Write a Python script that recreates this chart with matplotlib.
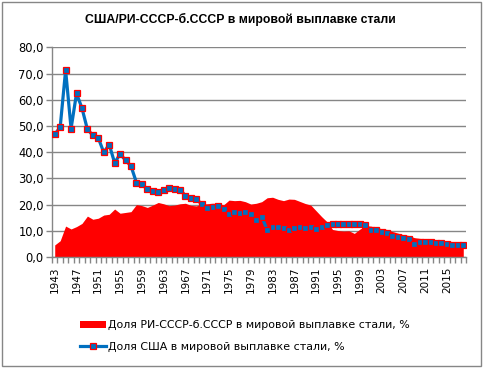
import matplotlib
matplotlib.use("Agg")
import matplotlib.pyplot as plt
import numpy as np
from matplotlib.patches import Rectangle
from matplotlib.lines import Line2D
from matplotlib.patches import Patch

years = list(range(1943, 2019))

ussr_share = [4.6, 6.2, 11.8, 10.7, 11.6, 12.8, 15.6, 14.4, 14.8, 16.0,
              16.3, 18.3, 16.7, 17.0, 17.3, 20.0, 19.6, 18.9, 19.8, 20.8,
              20.3, 19.6, 19.8, 20.3, 20.5, 19.7, 19.5, 20.2, 20.3, 20.5,
              20.4, 19.9, 21.7, 21.5, 21.6, 21.1, 20.2, 20.5, 21.1, 22.6,
              22.8, 22.0, 21.5, 22.1, 22.0, 21.2, 20.4, 19.8, 17.6, 15.4,
              13.4, 10.5, 10.1, 9.9, 10.0, 9.0, 10.6, 11.8, 11.8, 11.3,
              10.8, 10.5, 9.7, 9.1, 8.5, 8.2, 7.4, 7.1, 7.0, 6.8,
              6.5, 6.4, 6.1, 5.9, 5.9, 5.8]

usa_share = [46.8, 49.5, 71.3, 49.0, 62.4, 56.8, 48.7, 46.4, 45.4, 39.9,
             42.9, 35.9, 39.3, 36.9, 34.7, 28.4, 27.7, 25.9, 25.3, 24.7,
             25.5, 26.2, 25.9, 25.7, 23.4, 22.4, 22.1, 20.1, 18.8, 19.2,
             19.5, 18.4, 16.4, 17.0, 16.9, 17.2, 16.4, 14.0, 15.4, 10.3,
             11.4, 11.6, 10.9, 10.3, 10.9, 11.6, 11.2, 11.6, 10.8, 11.6,
             12.2, 12.5, 12.6, 12.6, 12.5, 12.7, 12.5, 12.1, 10.3, 10.2,
             9.4, 9.3, 8.0, 7.8, 7.1, 6.9, 4.8, 5.6, 5.6, 5.8,
             5.2, 5.2, 5.0, 4.7, 4.7, 4.7]

title = "США/РИ-СССР-б.СССР в мировой выплавке стали"
label_ussr = "Доля РИ-СССР-б.СССР в мировой выплавке стали, %"
label_usa = "Доля США в мировой выплавке стали, %"
y_ticks = [0, 10, 20, 30, 40, 50, 60, 70, 80]

plt.rcParams['font.family'] = ['DejaVu Sans']

W, H = 483, 368
fig = plt.figure(figsize=(W / 100, H / 100), dpi=100)
fig.patch.set_facecolor('white')

ax = fig.add_axes([52 / W, 1 - 257 / H, (466 - 52) / W, (257 - 47.3) / H])

x = np.arange(len(years))
ax.fill_between(x, 0, ussr_share, color='#FF0000', linewidth=0, zorder=2)
ax.plot(x, usa_share, color='#0070C0', linewidth=2.3, marker='s',
        markersize=4.6, markerfacecolor='#0070C0', markeredgecolor='#FF0000',
        markeredgewidth=0.9, zorder=3)

ax.set_xlim(-0.5, len(years) - 0.5)
ax.set_ylim(0, 80)
ax.set_yticks(y_ticks)
ax.set_yticklabels([f"{v:.1f}".replace('.', ',') for v in y_ticks], fontsize=8.3)
ax.yaxis.grid(True, color='#868686', linewidth=1.0, zorder=0)
ax.set_axisbelow(True)

ax.set_xticks(x[::4])
ax.set_xticklabels([str(y) for y in years[::4]], rotation=90, fontsize=7.5)
ax.set_xticks(np.arange(-0.5, len(years), 1.0), minor=True)
ax.tick_params(axis='x', which='major', length=0, pad=7)
ax.tick_params(axis='x', which='minor', length=4, color='#868686', width=1)
ax.tick_params(axis='y', length=4, color='#868686', width=1, pad=2)

for s in ['top', 'right']:
    ax.spines[s].set_visible(False)
for s in ['left', 'bottom']:
    ax.spines[s].set_color('#868686')
    ax.spines[s].set_linewidth(1.0)

fig.text(240 / W, 1 - 19 / H, title, ha='center', va='center',
         fontsize=8.8, fontweight='bold', family=['Liberation Sans', 'DejaVu Sans'])

handles = [Patch(facecolor='#FF0000', edgecolor='none'),
           Line2D([0], [0], color='#0070C0', linewidth=2.3, marker='s',
                  markersize=4.6, markerfacecolor='#0070C0',
                  markeredgecolor='#FF0000', markeredgewidth=0.9)]
leg = fig.legend(handles, [label_ussr, label_usa], loc='center',
                 bbox_to_anchor=(245 / W, 1 - 336 / H), frameon=False,
                 fontsize=7.9, handlelength=2.4, handleheight=0.6,
                 labelspacing=1.1, handletextpad=0.2, alignment='left')

fig.patches.append(Rectangle((2 / W, 2 / H), (W - 4) / W, (H - 4) / H,
                             transform=fig.transFigure, fill=False,
                             edgecolor='#868686', linewidth=1.0))

fig.savefig('out.png', dpi=100)
